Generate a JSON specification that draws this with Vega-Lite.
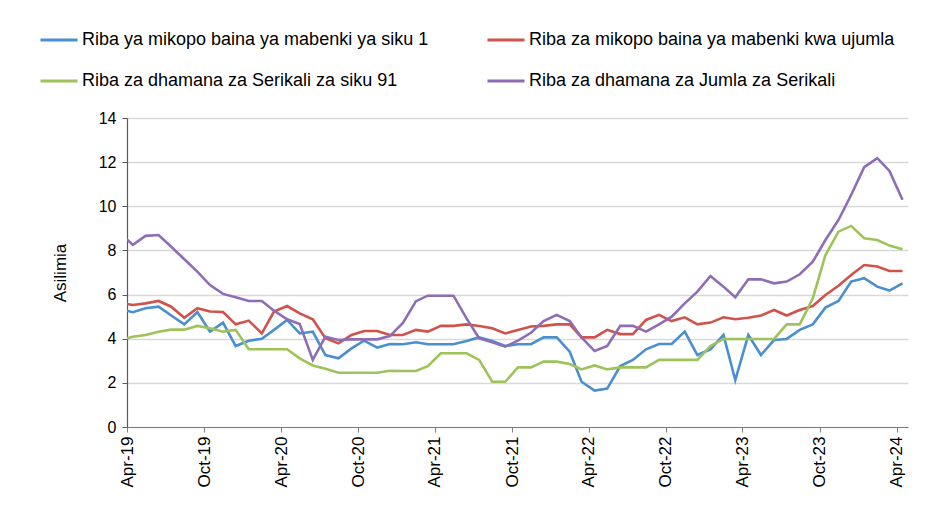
{
 "$schema": "https://vega.github.io/schema/vega-lite/v6.json",
 "width": 781,
 "height": 309,
 "autosize": {"type": "none"},
 "padding": {"left": 127, "top": 118, "right": 36, "bottom": 80},
 "background": "white",
 "config": {"font": "Liberation Sans", "view": {"stroke": null}},
 "data": {"values": [
  {"d":"2019-03-15","b":5.35,"r":5.62,"g":3.94,"p":8.80},
  {"d":"2019-04-15","b":5.2,"r":5.53,"g":4.09,"p":8.25},
  {"d":"2019-05-15","b":5.38,"r":5.6,"g":4.17,"p":8.66},
  {"d":"2019-06-15","b":5.45,"r":5.71,"g":4.32,"p":8.7},
  {"d":"2019-07-15","b":5.05,"r":5.45,"g":4.41,"p":8.17},
  {"d":"2019-08-15","b":4.65,"r":4.95,"g":4.41,"p":7.6},
  {"d":"2019-09-15","b":5.21,"r":5.38,"g":4.58,"p":7.04},
  {"d":"2019-10-15","b":4.32,"r":5.23,"g":4.47,"p":6.43},
  {"d":"2019-11-15","b":4.73,"r":5.21,"g":4.32,"p":6.03},
  {"d":"2019-12-15","b":3.67,"r":4.65,"g":4.4,"p":5.88},
  {"d":"2020-01-15","b":3.91,"r":4.82,"g":3.52,"p":5.71},
  {"d":"2020-02-15","b":4.0,"r":4.24,"g":3.52,"p":5.71},
  {"d":"2020-03-15","b":4.4,"r":5.23,"g":3.52,"p":5.27},
  {"d":"2020-04-15","b":4.85,"r":5.48,"g":3.52,"p":4.88},
  {"d":"2020-05-15","b":4.24,"r":5.15,"g":3.11,"p":4.67},
  {"d":"2020-06-15","b":4.32,"r":4.88,"g":2.79,"p":3.04},
  {"d":"2020-07-15","b":3.26,"r":4.02,"g":2.64,"p":4.09},
  {"d":"2020-08-15","b":3.11,"r":3.79,"g":2.46,"p":3.94},
  {"d":"2020-09-15","b":3.56,"r":4.17,"g":2.46,"p":3.97},
  {"d":"2020-10-15","b":3.91,"r":4.35,"g":2.46,"p":3.97},
  {"d":"2020-11-15","b":3.6,"r":4.35,"g":2.46,"p":3.97},
  {"d":"2020-12-15","b":3.76,"r":4.17,"g":2.55,"p":4.12},
  {"d":"2021-01-15","b":3.75,"r":4.17,"g":2.54,"p":4.72},
  {"d":"2021-02-15","b":3.84,"r":4.4,"g":2.54,"p":5.7},
  {"d":"2021-03-15","b":3.75,"r":4.32,"g":2.76,"p":5.95},
  {"d":"2021-04-15","b":3.75,"r":4.58,"g":3.34,"p":5.95},
  {"d":"2021-05-15","b":3.75,"r":4.58,"g":3.34,"p":5.95},
  {"d":"2021-06-15","b":3.9,"r":4.65,"g":3.34,"p":4.92},
  {"d":"2021-07-15","b":4.06,"r":4.58,"g":3.04,"p":4.02},
  {"d":"2021-08-15","b":3.9,"r":4.47,"g":2.05,"p":3.84},
  {"d":"2021-09-15","b":3.67,"r":4.24,"g":2.05,"p":3.64},
  {"d":"2021-10-15","b":3.75,"r":4.4,"g":2.7,"p":3.91},
  {"d":"2021-11-15","b":3.75,"r":4.55,"g":2.7,"p":4.27},
  {"d":"2021-12-15","b":4.06,"r":4.58,"g":2.96,"p":4.8},
  {"d":"2022-01-15","b":4.06,"r":4.65,"g":2.96,"p":5.08},
  {"d":"2022-02-15","b":3.41,"r":4.65,"g":2.85,"p":4.8},
  {"d":"2022-03-15","b":2.05,"r":4.06,"g":2.61,"p":4.06},
  {"d":"2022-04-15","b":1.65,"r":4.06,"g":2.79,"p":3.44},
  {"d":"2022-05-15","b":1.74,"r":4.4,"g":2.61,"p":3.67},
  {"d":"2022-06-15","b":2.76,"r":4.21,"g":2.7,"p":4.58},
  {"d":"2022-07-15","b":3.04,"r":4.21,"g":2.7,"p":4.58},
  {"d":"2022-08-15","b":3.52,"r":4.85,"g":2.7,"p":4.32},
  {"d":"2022-09-15","b":3.76,"r":5.08,"g":3.04,"p":4.65},
  {"d":"2022-10-15","b":3.76,"r":4.8,"g":3.04,"p":5.0},
  {"d":"2022-11-15","b":4.32,"r":4.97,"g":3.04,"p":5.6},
  {"d":"2022-12-15","b":3.26,"r":4.65,"g":3.04,"p":6.13},
  {"d":"2023-01-15","b":3.52,"r":4.73,"g":3.67,"p":6.84},
  {"d":"2023-02-15","b":4.17,"r":4.97,"g":3.99,"p":6.36},
  {"d":"2023-03-15","b":2.12,"r":4.88,"g":3.99,"p":5.88},
  {"d":"2023-04-15","b":4.17,"r":4.95,"g":3.99,"p":6.69},
  {"d":"2023-05-15","b":3.26,"r":5.05,"g":3.99,"p":6.69},
  {"d":"2023-06-15","b":3.94,"r":5.3,"g":3.99,"p":6.51},
  {"d":"2023-07-15","b":3.99,"r":5.05,"g":4.65,"p":6.59},
  {"d":"2023-08-15","b":4.4,"r":5.3,"g":4.65,"p":6.92},
  {"d":"2023-09-15","b":4.65,"r":5.48,"g":5.83,"p":7.49},
  {"d":"2023-10-15","b":5.41,"r":5.98,"g":7.79,"p":8.47},
  {"d":"2023-11-15","b":5.71,"r":6.4,"g":8.85,"p":9.38},
  {"d":"2023-12-15","b":6.59,"r":6.89,"g":9.11,"p":10.51},
  {"d":"2024-01-15","b":6.74,"r":7.34,"g":8.55,"p":11.77},
  {"d":"2024-02-15","b":6.36,"r":7.27,"g":8.47,"p":12.18},
  {"d":"2024-03-15","b":6.18,"r":7.07,"g":8.22,"p":11.6},
  {"d":"2024-04-15","b":6.51,"r":7.07,"g":8.05,"p":10.3}
 ]},
 "transform": [
  {"fold": ["b", "r", "g", "p"], "as": ["series", "value"]}
 ],
 "mark": {"type": "line", "strokeWidth": 2.6, "clip": true},
 "encoding": {
  "x": {
   "field": "d", "type": "temporal",
   "scale": {"type": "utc", "domain": [{"year": 2019, "month": 4, "date": 1, "utc": true}, {"year": 2024, "month": 4, "date": 28, "utc": true}]},
   "axis": {
    "title": null, "grid": false,
    "labelExpr": "utcFormat(datum.value, '%b-%y')",
    "values": [
     {"year": 2019, "month": 4, "date": 1, "utc": true},
     {"year": 2019, "month": 10, "date": 1, "utc": true},
     {"year": 2020, "month": 4, "date": 1, "utc": true},
     {"year": 2020, "month": 10, "date": 1, "utc": true},
     {"year": 2021, "month": 4, "date": 1, "utc": true},
     {"year": 2021, "month": 10, "date": 1, "utc": true},
     {"year": 2022, "month": 4, "date": 1, "utc": true},
     {"year": 2022, "month": 10, "date": 1, "utc": true},
     {"year": 2023, "month": 4, "date": 1, "utc": true},
     {"year": 2023, "month": 10, "date": 1, "utc": true},
     {"year": 2024, "month": 4, "date": 1, "utc": true}
    ],
    "labelAngle": -90, "labelFontSize": 17, "labelColor": "#000000", "labelPadding": 4,
    "tickSize": 5, "tickColor": "#7f7f7f", "domainColor": "#7f7f7f", "domainWidth": 1.2,
    "labelOverlap": false, "labelFlush": false
   }
  },
  "y": {
   "field": "value", "type": "quantitative",
   "scale": {"domain": [0, 14], "nice": false},
   "axis": {
    "title": "Asilimia", "titleFontSize": 17, "titleFontWeight": "normal", "titleColor": "#000000", "titlePadding": 29,
    "values": [0, 2, 4, 6, 8, 10, 12, 14],
    "labelFontSize": 16, "labelColor": "#000000", "labelPadding": 6,
    "tickSize": 5, "tickColor": "#595959", "domainColor": "#595959", "domainWidth": 1.2,
    "grid": true, "gridColor": "#d9d9d9", "gridWidth": 1.5
   }
  },
  "color": {
   "field": "series", "type": "nominal",
   "scale": {"domain": ["b", "g", "r", "p"], "range": ["#4a8fd0", "#9dc35a", "#d0534b", "#8e6db6"]},
   "legend": {
    "orient": "none", "legendX": -88, "legendY": -98, "title": null, "padding": 0,
    "columns": 2, "columnPadding": 52, "rowPadding": 12,
    "symbolType": "stroke", "symbolSize": 1369, "symbolStrokeWidth": 3,
    "labelFontSize": 18, "labelColor": "#000000", "labelOffset": 3, "labelLimit": 600,
    "labelExpr": "{'b': 'Riba ya mikopo baina ya mabenki ya siku 1', 'r': 'Riba za mikopo baina ya mabenki kwa ujumla', 'g': 'Riba za dhamana za Serikali za siku 91', 'p': 'Riba za dhamana za Jumla za Serikali'}[datum.label]"
   }
  }
 }
}
